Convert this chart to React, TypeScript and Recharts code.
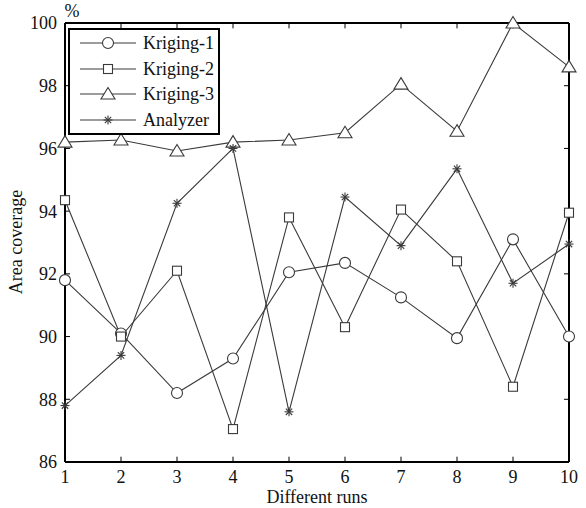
import React from 'react';
import {
  LineChart,
  Line,
  XAxis,
  YAxis,
  Legend,
  Label,
  ReferenceLine,
} from 'recharts';

const runs = [1, 2, 3, 4, 5, 6, 7, 8, 9, 10];
const kriging1 = [91.8, 90.1, 88.2, 89.3, 92.05, 92.35, 91.25, 89.95, 93.1, 90.0];
const kriging2 = [94.35, 90.0, 92.1, 87.05, 93.8, 90.3, 94.05, 92.4, 88.4, 93.95];
const kriging3 = [96.2, 96.27, 95.92, 96.2, 96.27, 96.5, 98.05, 96.55, 100, 98.6];
const analyzer = [87.8, 89.4, 94.25, 96.0, 87.6, 94.45, 92.9, 95.35, 91.7, 92.95];
const yTicks = [86, 88, 90, 92, 94, 96, 98, 100];

const data = runs.map((r, i) => ({
  run: r,
  k1: kriging1[i],
  k2: kriging2[i],
  k3: kriging3[i],
  an: analyzer[i],
}));

const LINE = '#3a3a3a';
const FONT = "'Liberation Serif', 'Times New Roman', serif";
const FS = 18;

const series = [
  { key: 'k1', name: 'Kriging-1', shape: 'circle' },
  { key: 'k2', name: 'Kriging-2', shape: 'square' },
  { key: 'k3', name: 'Kriging-3', shape: 'triangle' },
  { key: 'an', name: 'Analyzer', shape: 'star' },
];

const Marker = ({ cx, cy, shape }: { cx: number; cy: number; shape: string }) => {
  if (cx == null || cy == null) return null;
  if (shape === 'circle')
    return <circle cx={cx} cy={cy} r={5.5} fill="#fff" stroke={LINE} strokeWidth={1.1} />;
  if (shape === 'square')
    return <rect x={cx - 4.5} y={cy - 4.5} width={9} height={9} fill="#fff" stroke={LINE} strokeWidth={1.1} />;
  if (shape === 'triangle')
    return (
      <polygon
        points={`${cx},${cy - 6.5} ${cx - 7},${cy + 5} ${cx + 7},${cy + 5}`}
        fill="#fff"
        stroke={LINE}
        strokeWidth={1.1}
      />
    );
  const r = 4.5;
  const d = r * 0.707;
  return (
    <g stroke={LINE} strokeWidth={1.1}>
      <line x1={cx - r} y1={cy} x2={cx + r} y2={cy} />
      <line x1={cx} y1={cy - r} x2={cx} y2={cy + r} />
      <line x1={cx - d} y1={cy - d} x2={cx + d} y2={cy + d} />
      <line x1={cx - d} y1={cy + d} x2={cx + d} y2={cy - d} />
    </g>
  );
};

const LegendBox = () => (
  <div
    style={{
      width: 152,
      height: 107,
      border: '2px solid #000',
      background: '#fff',
      boxSizing: 'border-box',
    }}
  >
    {series.map((s) => (
      <div key={s.key} style={{ display: 'flex', alignItems: 'center', height: 25.8 }}>
        <svg width={56} height={16} style={{ marginLeft: 10 }}>
          <line x1={0} y1={8} x2={56} y2={8} stroke={LINE} strokeWidth={1.1} />
          <Marker cx={28} cy={8} shape={s.shape} />
        </svg>
        <span style={{ marginLeft: 7, fontFamily: FONT, fontSize: FS, color: '#111', lineHeight: 1 }}>
          {s.name}
        </span>
      </div>
    ))}
  </div>
);

export default function App() {
  return (
    <div style={{ position: 'absolute', left: 0, top: 0, width: 586, height: 508, background: '#fff' }}>
      <LineChart
        width={586}
        height={508}
        data={data}
        margin={{ top: 23, right: 17, bottom: 16, left: 25 }}
        style={{ fontFamily: FONT }}
      >
        <XAxis
          dataKey="run"
          type="number"
          domain={[1, 10]}
          ticks={runs}
          height={30}
          tickLine={false}
          axisLine={{ stroke: '#000', strokeWidth: 2 }}
          tick={{ fill: '#111', fontSize: FS, fontFamily: FONT }}
        >
          <Label
            content={() => (
              <text x={317} y={503} textAnchor="middle" fill="#111" fontSize={FS} fontFamily={FONT}>
                Different runs
              </text>
            )}
          />
        </XAxis>
        <YAxis
          type="number"
          domain={[86, 100]}
          ticks={yTicks}
          width={40}
          tickLine={false}
          axisLine={{ stroke: '#000', strokeWidth: 2 }}
          tick={{ fill: '#111', fontSize: FS, fontFamily: FONT }}
        >
          <Label
            content={() => (
              <g>
                <text
                  x={22}
                  y={242}
                  transform="rotate(-90 22 242)"
                  textAnchor="middle"
                  fill="#111"
                  fontSize={FS}
                  fontFamily={FONT}
                >
                  Area coverage
                </text>
                <text x={72} y={17} textAnchor="middle" fill="#111" fontSize={FS} fontFamily={FONT}>
                  %
                </text>
              </g>
            )}
          />
        </YAxis>
        <ReferenceLine y={100} stroke="#000" strokeWidth={2} />
        <ReferenceLine x={10} stroke="#000" strokeWidth={2} />
        {runs.map((v) => (
          <ReferenceLine
            key={`xb${v}`}
            segment={[{ x: v, y: 86 }, { x: v, y: 86.17 }]}
            stroke="#000"
            strokeWidth={1}
          />
        ))}
        {runs.map((v) => (
          <ReferenceLine
            key={`xt${v}`}
            segment={[{ x: v, y: 100 }, { x: v, y: 99.83 }]}
            stroke="#000"
            strokeWidth={1}
          />
        ))}
        {yTicks.map((v) => (
          <ReferenceLine
            key={`yl${v}`}
            segment={[{ x: 1, y: v }, { x: 1.09, y: v }]}
            stroke="#000"
            strokeWidth={1}
          />
        ))}
        {yTicks.map((v) => (
          <ReferenceLine
            key={`yr${v}`}
            segment={[{ x: 10, y: v }, { x: 9.91, y: v }]}
            stroke="#000"
            strokeWidth={1}
          />
        ))}
        {series.map((s) => (
          <Line
            key={s.key}
            dataKey={s.key}
            name={s.name}
            type="linear"
            stroke={LINE}
            strokeWidth={1.1}
            isAnimationActive={false}
            dot={(p: any) => <Marker key={`${s.key}-${p.index}`} cx={p.cx} cy={p.cy} shape={s.shape} />}
            activeDot={false}
          />
        ))}
        <Legend
          layout="vertical"
          align="center"
          verticalAlign="middle"
          content={() => <LegendBox />}
          wrapperStyle={{ position: 'absolute', left: 68, top: 28, width: 152, height: 107 }}
        />
      </LineChart>
    </div>
  );
}
